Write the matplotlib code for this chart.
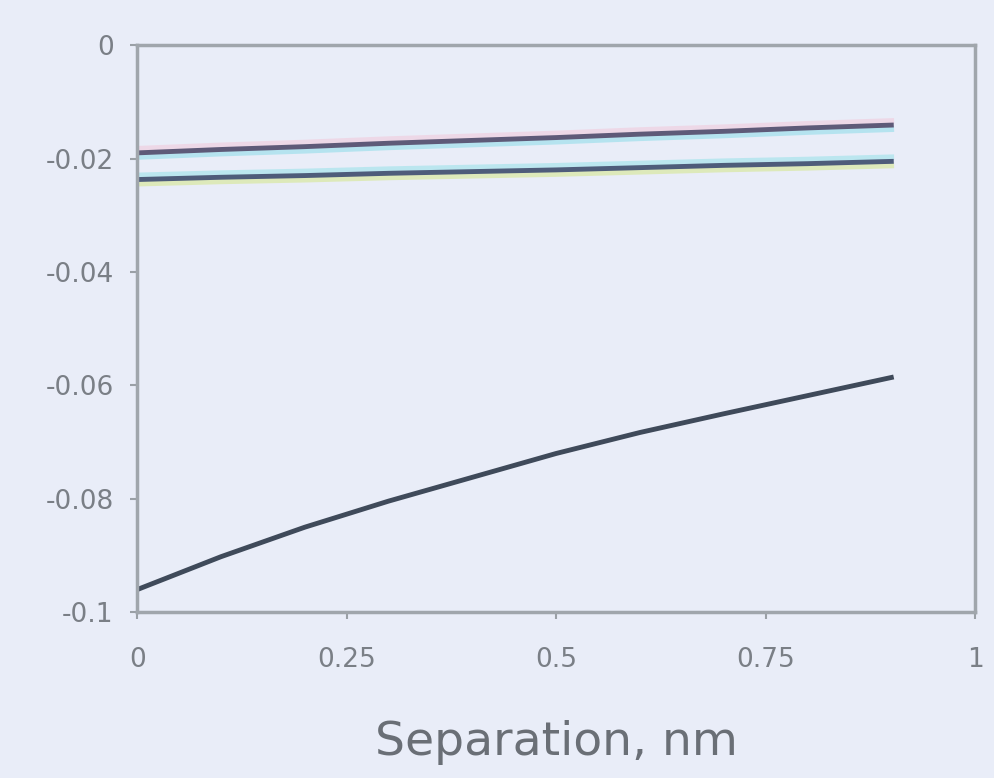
"""Separation curves, recreated from a photo of the original chart."""
import numpy as np
import matplotlib
matplotlib.use('Agg')
import matplotlib.pyplot as plt
import matplotlib.patheffects as pe

# ---- data ----
sep = [0.0, 0.1, 0.2, 0.3, 0.4, 0.5, 0.6, 0.7, 0.8, 0.9]
upper_a = [-0.0190, -0.0184, -0.0179, -0.0173, -0.0168,
           -0.0163, -0.0157, -0.0152, -0.0146, -0.0141]
upper_b = [-0.0237, -0.0233, -0.0230, -0.0226, -0.0223,
           -0.0220, -0.0216, -0.0212, -0.0209, -0.0205]
lower = [-0.0960, -0.0902, -0.0850, -0.0804, -0.0762,
         -0.0720, -0.0683, -0.0650, -0.0618, -0.0586]

xticks = [0, 0.25, 0.5, 0.75, 1]
xtick_labels = ['0', '0.25', '0.5', '0.75', '1']
yticks = [0, -0.02, -0.04, -0.06, -0.08, -0.1]
ytick_labels = ['0', '-0.02', '-0.04', '-0.06', '-0.08', '-0.1']

bg = '#e9edf8'
txt = '#7a7f86'

fig = plt.figure(figsize=(9.94, 7.78), dpi=100, facecolor=bg)
ax = fig.add_axes([0.138, 0.213, 0.843, 0.729], facecolor=bg)

# the photo shows colour fringes on the upper pair: faint offset strokes
fringe_a = [pe.Stroke(linewidth=4, foreground='#9fe0ec', offset=(0, -3), alpha=0.7),
            pe.Stroke(linewidth=4, foreground='#f0d0e0', offset=(0, 3), alpha=0.7),
            pe.Normal()]
fringe_b = [pe.Stroke(linewidth=4, foreground='#d8e8a0', offset=(0, -3), alpha=0.7),
            pe.Stroke(linewidth=4, foreground='#a8e4ec', offset=(0, 3), alpha=0.7),
            pe.Normal()]
ax.plot(sep, upper_a, color='#5e5a78', lw=3.5, path_effects=fringe_a)
ax.plot(sep, upper_b, color='#4e5c7a', lw=3.5, path_effects=fringe_b)
ax.plot(sep, lower, color='#3f4a5a', lw=3.5)

ax.set_xlim(0, 1)
ax.set_ylim(-0.1, 0)
ax.set_xticks(xticks)
ax.set_xticklabels(xtick_labels)
ax.set_yticks(yticks)
ax.set_yticklabels(ytick_labels)
ax.tick_params(colors='#9aa0a6', labelcolor=txt, labelsize=19,
               length=5, width=1.5)
ax.tick_params(axis='x', pad=20)
ax.tick_params(axis='y', pad=12)
for s in ax.spines.values():
    s.set_color('#a0a6ac')
    s.set_linewidth(2.5)

ax.set_xlabel('Separation, nm', fontsize=34, color='#6a6f76', labelpad=34)

fig.savefig('out.png', dpi=100, facecolor=bg)
